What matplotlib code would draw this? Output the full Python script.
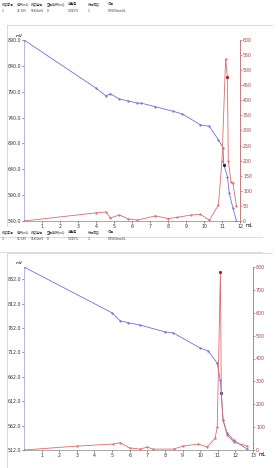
import matplotlib
matplotlib.use('Agg')
import matplotlib.pyplot as plt
from matplotlib.lines import Line2D

plt.rcParams['font.family'] = ['Noto Sans CJK SC', 'DejaVu Sans']

# 表头与结果
headers = ['终点序号', '体积(mL)', '终点电位', '空白体积(mL)', '含量值', '稀释倍数', '结果']
row1 = ['1', '11.395', '518.0mV', '0', '5.025%', '1', '0.9503mol/L']
row2 = ['1', '11.395', '518.0mV', '0', '5.025%', '1', '0.9503mol/L']

# 曲线1: 电位 (mV) 与 一阶导数
v1 = [0, 4.0, 4.55, 4.8, 5.3, 5.8, 6.3, 6.5, 7.3, 8.3, 8.8, 9.8, 10.3, 10.8,
      11.05, 11.1, 11.3, 11.4, 11.6, 11.8]
e1 = [890, 797, 782, 786, 776, 772, 768, 768, 761, 752, 747, 726, 723, 697,
      682, 649, 626, 595, 566, 540]
dv1 = [0, 4.0, 4.55, 4.8, 5.3, 5.8, 6.3, 7.3, 8.0, 8.5, 9.3, 9.8, 10.3, 10.8,
       11.0, 11.2, 11.3, 11.35, 11.5, 11.6, 11.8]
d1 = [0, 27, 30, 10, 20, 7, 3, 17, 8, 12, 20, 22, 3, 53,
      200, 537, 477, 200, 130, 127, 50]

# 曲线2
v2 = [0, 5.0, 5.45, 5.9, 6.6, 8.0, 8.47, 10.0, 10.45, 10.97, 11.14, 11.2,
      11.3, 11.53, 11.9, 12.67]
e2 = [887, 793, 777, 773, 768, 754, 752, 721, 715, 690, 655, 629,
      573, 547, 532, 514]
dv2 = [0, 3.0, 5.06, 5.45, 6.0, 6.6, 7.0, 7.3, 8.5, 9.0, 9.9, 10.4, 10.85,
       10.97, 11.15, 11.2, 11.3, 11.53, 11.9, 12.67]
d2 = [0, 17, 26, 32, 9, 4, 13, 4, 4, 17, 26, 13, 52,
      100, 780, 250, 131, 66, 35, 17]

W, H = 278, 468
fig = plt.figure(figsize=(W / 100, H / 100), dpi=100)

BLUE = '#6f6fe0'
RED = '#e06a6a'
GRAY = '#cccccc'
TICKFONT = ['Liberation Sans Narrow', 'DejaVu Sans']


def px_box(x0, y0, x1, y1):
    return [x0 / W, 1 - y1 / H, (x1 - x0) / W, (y1 - y0) / H]


def hline(y, x0, x1):
    fig.lines.append(Line2D([x0 / W, x1 / W], [1 - y / H, 1 - y / H],
                            transform=fig.transFigure, color=GRAY, lw=0.5))


def vline(x, y0, y1):
    fig.lines.append(Line2D([x / W, x / W], [1 - y0 / H, 1 - y1 / H],
                            transform=fig.transFigure, color=GRAY, lw=0.5))


def draw_table(ytop, rows):
    xs = [2, 17, 31, 47, 68, 88, 108]
    for x, t in zip(xs, headers):
        fig.text(x / W, 1 - ytop / H, t, fontsize=2.2, va='center', color='#333333')
    for x, t in zip(xs, rows):
        fig.text(x / W, 1 - (ytop + 7) / H, t, fontsize=2.4, va='center', color='#333333')


def draw_chart(box, v, e, dv, d, xmax, elim, eticks, dlim, dticks, emark, dmark):
    ax = fig.add_axes(px_box(*box))
    ax.plot(v, e, '-', color=BLUE, lw=0.6, marker='.', ms=1.2)
    ax.plot(*emark, 'o', color='#202060', ms=1.3)
    ax.set_xlim(0, xmax)
    ax.set_ylim(*elim)
    ax.set_yticks(eticks)
    ax.set_yticklabels([f'{t:.1f}' for t in eticks], family=TICKFONT)
    ax.set_xticks(range(1, xmax + 1))
    ax.set_xticklabels([str(i) for i in range(1, xmax + 1)], family=TICKFONT)
    ax.tick_params(labelsize=3.4, length=1.2, width=0.4, pad=1, colors='#333333')
    ax.spines['top'].set_visible(False)
    ax.spines['left'].set_color('#9a9ae8')
    ax.spines['bottom'].set_color('#888888')
    for s in ax.spines.values():
        s.set_linewidth(0.5)
    ax.text(-0.25, elim[1] + (elim[1] - elim[0]) * 0.01, 'mV', fontsize=3,
            ha='center', va='bottom', family=TICKFONT)
    ax.text(xmax + 0.3, elim[0] - (elim[1] - elim[0]) * 0.012, 'mL', fontsize=3.4,
            ha='left', va='top', family=TICKFONT)

    ax2 = ax.twinx()
    ax2.plot(dv, d, '-', color=RED, lw=0.6, marker='.', ms=1.2)
    ax2.plot(*dmark, 'o', color='#b02020', ms=1.3)
    ax2.set_ylim(*dlim)
    ax2.set_yticks(list(dticks))
    ax2.set_yticklabels([str(t) for t in dticks], family=TICKFONT)
    ax2.tick_params(labelsize=3.4, length=1.2, width=0.4, pad=1, colors='#a04040')
    ax2.spines['top'].set_visible(False)
    ax2.spines['left'].set_visible(False)
    ax2.spines['bottom'].set_visible(False)
    ax2.spines['right'].set_color('#e08888')
    ax2.spines['right'].set_linewidth(0.6)
    return ax


# 面板边框
hline(25, 7, 272)
vline(7, 25, 226)
hline(237, 0, 262)
hline(252, 0, 262)
hline(253, 7, 272)
vline(7, 253, 468)

draw_table(4, row1)
draw_table(232, row2)

draw_chart((24, 40, 240, 221), v1, e1, dv1, d1, 12, (540, 890),
           [540, 590, 640, 690, 740, 790, 840, 890], (0, 600), range(0, 601, 50),
           (11.1, 649), (11.3, 477))
draw_chart((24, 267, 253, 450), v2, e2, dv2, d2, 13, (512, 887),
           [512, 562, 612, 662, 712, 762, 812, 862], (0, 800), range(0, 801, 100),
           (11.2, 629), (11.15, 780))

fig.savefig('out.png', dpi=100)
